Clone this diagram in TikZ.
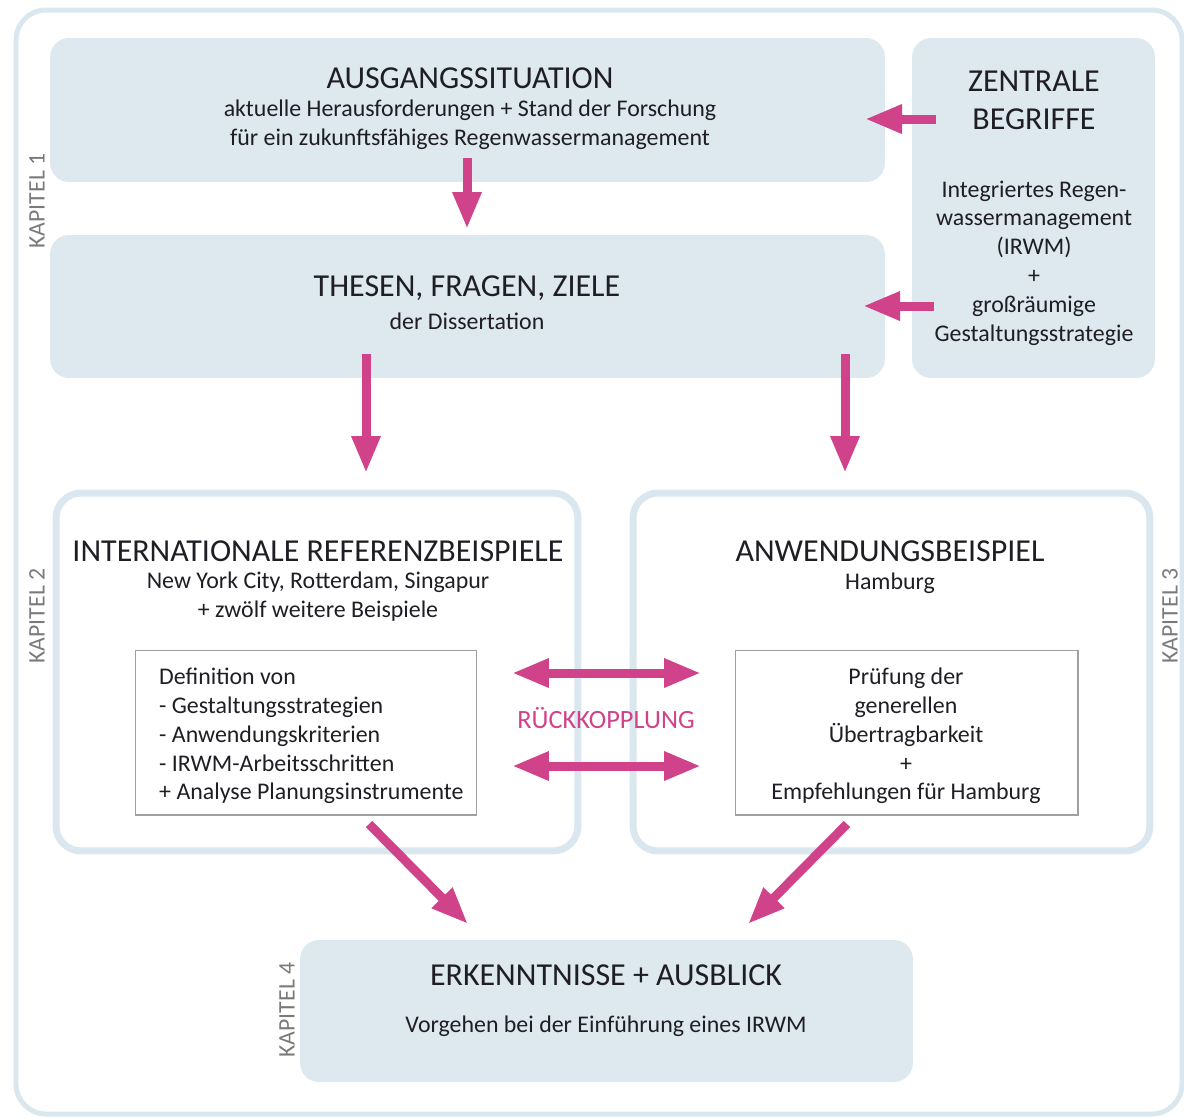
\documentclass[tikz,border=0pt]{standalone}
\usepackage{fontspec}
\setmainfont{Carlito}
\usepackage{tikz}
\usetikzlibrary{arrows.meta}

\definecolor{hellblau}{HTML}{DEE8EF}
\definecolor{rahmenblau}{HTML}{DAE7EF}
\definecolor{pink}{HTML}{D0438A}
\definecolor{schrift}{HTML}{1E1E24}
\definecolor{kapgrau}{HTML}{7A7A7A}

\tikzset{
    feld/.style={fill=hellblau, rounded corners=0.38cm, inner sep=0pt},
    rahmen/.style={draw=rahmenblau, line width=0.14cm, rounded corners=0.5cm, inner sep=0pt},
    kasten/.style={draw=gray!75, line width=0.6pt},
    titel/.style={text=schrift, align=center, font=\fontsize{18.2}{21.6}\selectfont},
    txt/.style={text=schrift, align=center, font=\fontsize{13.6}{16.4}\selectfont},
    kapitel/.style={rotate=90, text=kapgrau, font=\fontsize{13.5}{15}\selectfont},
    pfeil/.style={draw=pink, line width=0.18cm, -{Triangle[length=0.74cm,width=0.54cm]}},
    doppelpfeil/.style={draw=pink, line width=0.18cm,
        {Triangle[length=0.74cm,width=0.54cm]}-{Triangle[length=0.74cm,width=0.54cm]}},
}

\begin{document}
\begin{tikzpicture}[x=0.02cm, y=-0.02cm]

\useasboundingbox (0,0) rectangle (1184,1117);

% aeusserer Rahmen
\draw[draw=rahmenblau, line width=0.1cm, rounded corners=0.6cm] (16,10) rectangle (1182,1114);

% Kapitel 1
\node[feld, minimum width=16.7cm, minimum height=2.88cm] (ausgang) at (467.5,110) {};
\node[feld, minimum width=16.7cm, minimum height=2.86cm] (thesen) at (467.5,306.5) {};
\node[feld, minimum width=4.86cm, minimum height=6.8cm] (begriffe) at (1033.5,208) {};

\node[titel] (ausgangT) at (470,78) {AUSGANGSSITUATION};
\node[txt] (ausgangS) at (470,125) {aktuelle Herausforderungen + Stand der Forschung\\
    für ein zukunftsfähiges Regenwassermanagement};
\node[titel] (thesenT) at (467,288) {THESEN, FRAGEN, ZIELE};
\node[txt] (thesenS) at (467,321) {der Dissertation};
\node[titel] (begriffeT) at (1034,100) {ZENTRALE\\BEGRIFFE};
\node[txt] (begriffeS) at (1034,263) {Integriertes Regen-\\wassermanagement\\(IRWM)\\+\\großräumige\\Gestaltungsstrategie};

% Kapitel 2 + 3
\node[rahmen, minimum width=10.44cm, minimum height=7.16cm] (referenz) at (317,672) {};
\node[rahmen, minimum width=10.34cm, minimum height=7.16cm] (anwendung) at (891.5,672) {};

\node[titel] (referenzT) at (318,551) {INTERNATIONALE REFERENZBEISPIELE};
\node[txt] (referenzS) at (318,597) {New York City, Rotterdam, Singapur\\+ zwölf weitere Beispiele};
\node[kasten, minimum width=6.84cm, minimum height=3.3cm] (definition) at (306,732.5) {};
\node[txt, align=left, anchor=west] (definitionT) at (153,736)
    {Definition von\\- Gestaltungsstrategien\\- Anwendungskriterien\\- IRWM-Arbeitsschritten\\+ Analyse Planungsinstrumente};

\node[titel] (anwendungT) at (890,551) {ANWENDUNGSBEISPIEL};
\node[txt] (anwendungS) at (890,583) {Hamburg};
\node[kasten, minimum width=6.86cm, minimum height=3.3cm] (pruefung) at (906.5,732.5) {};
\node[txt] (pruefungT) at (906,736)
    {Prüfung der\\generellen\\Übertragbarkeit\\+\\Empfehlungen für Hamburg};

\node[text=pink, font=\fontsize{15}{17}\selectfont] (rueck) at (606,718) {RÜCKKOPPLUNG};

% Kapitel 4
\node[feld, minimum width=12.26cm, minimum height=2.84cm] (erkenntnis) at (606.5,1011) {};
\node[titel] (erkenntnisT) at (606,975) {ERKENNTNISSE + AUSBLICK};
\node[txt] (erkenntnisS) at (606,1026) {Vorgehen bei der Einführung eines IRWM};

% Kapitel-Beschriftung
\node[kapitel] (kap1) at (37,201) {KAPITEL 1};
\node[kapitel] (kap2) at (37,616) {KAPITEL 2};
\node[kapitel] (kap3) at (1170,616) {KAPITEL 3};
\node[kapitel] (kap4) at (287,1010) {KAPITEL 4};

% Pfeile
\coordinate (p1a) at (467,158);  \coordinate (p1b) at (467,229);
\coordinate (p2a) at (936,119);  \coordinate (p2b) at (865,119);
\coordinate (p3a) at (934,306);  \coordinate (p3b) at (863,306);
\coordinate (p4a) at (366,354);  \coordinate (p4b) at (366,473);
\coordinate (p5a) at (845,354);  \coordinate (p5b) at (845,473);
\coordinate (r1a) at (512,673);  \coordinate (r1b) at (701,673);
\coordinate (r2a) at (512,766);  \coordinate (r2b) at (701,766);
\coordinate (p6a) at (369,824);  \coordinate (p6b) at (468,924);
\coordinate (p7a) at (847,824);  \coordinate (p7b) at (748,924);

\draw[pfeil] (p1a) -- (p1b);
\draw[pfeil] (p2a) -- (p2b);
\draw[pfeil] (p3a) -- (p3b);
\draw[pfeil] (p4a) -- (p4b);
\draw[pfeil] (p5a) -- (p5b);
\draw[doppelpfeil] (r1a) -- (r1b);
\draw[doppelpfeil] (r2a) -- (r2b);
\draw[pfeil] (p6a) -- (p6b);
\draw[pfeil] (p7a) -- (p7b);

\end{tikzpicture}
\end{document}
